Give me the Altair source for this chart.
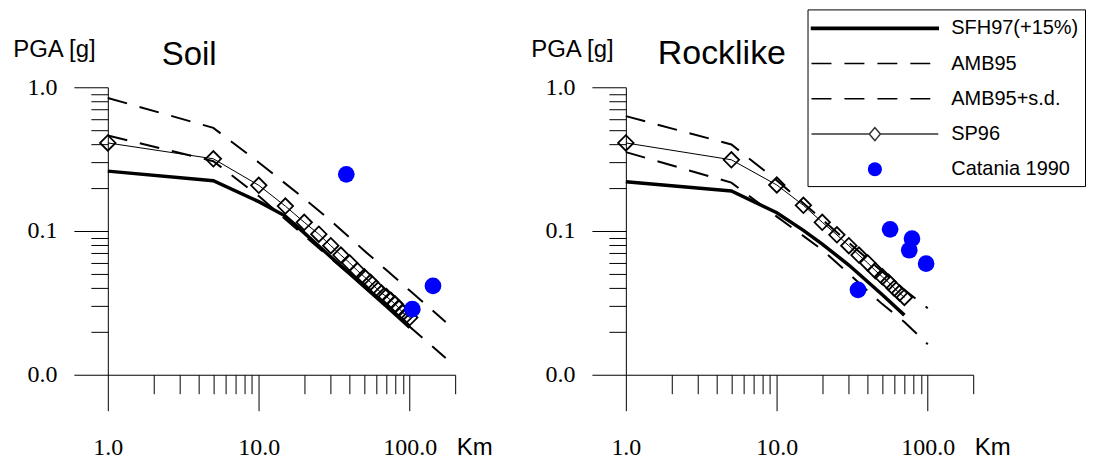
import altair as alt
import pandas as pd

# ---------------- data ----------------
# Soil panel
sp96_soil_x = [1, 5, 10, 15, 20, 25, 30, 35, 40, 45, 50, 55, 60, 65, 70, 75, 80, 85, 90, 95, 100]
sp96_soil_y = [0.41, 0.318, 0.208, 0.149, 0.115, 0.095, 0.079, 0.068, 0.060, 0.053, 0.048,
               0.044, 0.040, 0.037, 0.035, 0.033, 0.031, 0.029, 0.027, 0.026, 0.025]
sfh_soil_x = [1, 5, 10, 15, 20, 30, 50, 70, 100]
sfh_soil_y = [0.261, 0.224, 0.16, 0.127, 0.097, 0.066, 0.041, 0.030, 0.0213]
amb_soil_x = [1, 5, 10, 20, 30, 50, 70, 100, 173]
amb_soil_y = [0.462, 0.306, 0.175, 0.093, 0.0646, 0.0408, 0.030, 0.0216, 0.0131]
ambsd_soil_y = [0.843, 0.522, 0.30, 0.168, 0.118, 0.073, 0.0535, 0.0385, 0.0233]
cat_soil_x = [38, 104, 142.6]
cat_soil_y = [0.248, 0.0286, 0.0415]

# Rocklike panel
sp96_rock_x = [1, 5, 10, 15, 20, 25, 30, 35, 40, 45, 50, 55, 60, 65, 70]
sp96_rock_y = [0.41, 0.313, 0.209, 0.151, 0.115, 0.094, 0.079, 0.068, 0.060, 0.053, 0.048,
               0.044, 0.040, 0.037, 0.0345]
sfh_rock_x = [1, 5, 10, 15, 20, 30, 50, 70]
sfh_rock_y = [0.22, 0.19, 0.134, 0.101, 0.081, 0.058, 0.036, 0.026]
amb_rock_x = [1, 5, 10, 20, 30, 50, 70, 100]
amb_rock_y = [0.354, 0.217, 0.126, 0.074, 0.0505, 0.031, 0.0233, 0.0163]
ambsd_rock_y = [0.63, 0.40, 0.225, 0.12, 0.083, 0.052, 0.039, 0.029]
cat_rock_x = [34.5, 56.3, 75.4, 78.6, 97.5]
cat_rock_y = [0.039, 0.1028, 0.0735, 0.0885, 0.0593]

# axis ticks / labels
x_ticks = [1, 2, 3, 4, 5, 6, 7, 8, 9, 10, 20, 30, 40, 50, 60, 70, 80, 90, 100, 200]
y_ticks = [0.01, 0.02, 0.03, 0.04, 0.05, 0.06, 0.07, 0.08, 0.09,
           0.1, 0.2, 0.3, 0.4, 0.5, 0.6, 0.7, 0.8, 0.9, 1.0]

# legend (symbol paths in units of 12 px: symbolSize 576)
legend_labels = ["SFH97(+15%)", "AMB95", "AMB95+s.d.", "SP96", "Catania 1990"]
legend_paths = [
    "M-5.292,-0.0875H5.292V0.0875H-5.292Z",
    "M-5.292,0H5.292",
    "M-5.292,0H5.292",
    "M-5.292,0H-0.458M-0.458,0L0,-0.542L0.458,0L0,0.542ZM0.458,0H5.292",
    "M-0.583,0A0.583,0.583,0,1,1,0.583,0A0.583,0.583,0,1,1,-0.583,0Z",
]
legend_fill = ["black", "transparent", "transparent", "transparent", "blue"]
legend_stroke = ["black", "black", "black", "#333333", "transparent"]
legend_dash = [[1, 0], [20, 13], [20, 13], [1, 0], [1, 0]]

SANS = "Liberation Sans"
SERIF = "Liberation Serif, Times New Roman, serif"
DASH = [20, 13]


def df(xs, ys):
    return pd.DataFrame({"x": xs, "y": ys})


def panel(title, title_size, title_dx, title_off, sfh, amb, ambsd, sp, cat, with_legend=False):
    xs = alt.Scale(type="log", domain=[1, 200], nice=False)
    ys = alt.Scale(type="log", domain=[0.01, 1], nice=False)
    xaxis = alt.Axis(
        values=x_ticks, grid=False,
        tickSize={"condition": {"test": "datum.value == 1 || datum.value == 10 || datum.value == 100",
                                "value": 36}, "value": 19},
        labelExpr="datum.value == 1 ? '1.0' : datum.value == 10 ? '10.0' : datum.value == 100 ? '100.0' : ''",
        labelFont=SERIF, labelFontSize=24, labelPadding=25, labelOverlap=False, labelFlush=False,
        title="Km", titleFont=SANS, titleFontSize=24, titleFontWeight="normal",
        titleX=349, titleY=80, titleAlign="left", titleBaseline="alphabetic",
    )
    yaxis = alt.Axis(
        values=y_ticks, grid=False,
        tickSize={"condition": {"test": "datum.value == 1 || datum.value == 0.1 || datum.value == 0.01",
                                "value": 34}, "value": 17},
        labelExpr="datum.value == 1 ? '1.0' : datum.value == 0.1 ? '0.1' : datum.value == 0.01 ? '0.0' : ''",
        labelFont=SERIF, labelFontSize=24, labelPadding=17, labelOverlap=False, labelFlush=False,
        title="PGA [g]", titleFont=SANS, titleFontSize=24, titleFontWeight="normal", titleAngle=0,
        titleX=-54, titleY=-31, titleAlign="center", titleBaseline="alphabetic",
    )

    def enc(ch):
        return ch.encode(
            x=alt.X("x:Q", scale=xs, axis=xaxis),
            y=alt.Y("y:Q", scale=ys, axis=yaxis),
        )

    layers = [
        enc(alt.Chart(df(*ambsd)).mark_line(color="black", strokeWidth=2, strokeDash=DASH)),
        enc(alt.Chart(df(*amb)).mark_line(color="black", strokeWidth=2, strokeDash=DASH)),
        enc(alt.Chart(df(*sfh)).mark_line(color="black", strokeWidth=3.5)),
        enc(alt.Chart(df(*sp)).mark_line(color="black", strokeWidth=1)),
        enc(alt.Chart(df(*sp)).mark_point(shape="diamond", filled=False, color="black",
                                           size=240, strokeWidth=1.8, opacity=1)),
        enc(alt.Chart(df(*cat)).mark_circle(color="blue", size=280, opacity=1)),
    ]

    if with_legend:
        leg = alt.Legend(
            orient="none", legendX=701, legendY=-78, title=None, padding=6,
            strokeColor="black", fillColor="white",
            symbolSize=576, symbolStrokeWidth=1.5, symbolOffset=48.5, symbolOpacity=1,
            labelOffset=63.5, labelFont=SANS, labelFontSize=20, labelColor="black",
            labelLimit=0, rowPadding=12.3,
        )
        ldf = pd.DataFrame({"series": legend_labels, "x": [1000] * 5, "y": [0.5] * 5})
        carrier = alt.Chart(ldf).mark_point(opacity=0, clip=True, size=576, strokeWidth=1.5).encode(
            x=alt.X("x:Q", scale=xs, axis=xaxis),
            y=alt.Y("y:Q", scale=ys, axis=yaxis),
            shape=alt.Shape("series:N", scale=alt.Scale(domain=legend_labels, range=legend_paths), legend=leg),
            fill=alt.Fill("series:N", scale=alt.Scale(domain=legend_labels, range=legend_fill), legend=leg),
            stroke=alt.Stroke("series:N", scale=alt.Scale(domain=legend_labels, range=legend_stroke), legend=leg),
            strokeDash=alt.StrokeDash("series:N", scale=alt.Scale(domain=legend_labels, range=legend_dash), legend=leg),
        )
        layers.append(carrier)

    return alt.layer(*layers).properties(
        width=348, height=288,
        title=alt.Title(title, anchor="start", frame="group", dx=title_dx, offset=title_off,
                        font=SANS, fontSize=title_size, fontWeight="normal", color="black"),
    )


left = panel("Soil", 33, 54, -35,
             (sfh_soil_x, sfh_soil_y), (amb_soil_x, amb_soil_y), (amb_soil_x, ambsd_soil_y),
             (sp96_soil_x, sp96_soil_y), (cat_soil_x, cat_soil_y))
right = panel("Rocklike", 34, 32, -34,
              (sfh_rock_x, sfh_rock_y), (amb_rock_x, amb_rock_y), (amb_rock_x, ambsd_rock_y),
              (sp96_rock_x, sp96_rock_y), (cat_rock_x, cat_rock_y), with_legend=True)

chart = alt.hconcat(left, right, spacing=37).properties(
    padding={"left": 3, "top": 0, "right": 0, "bottom": 0}
).configure_view(stroke=None).configure_axis(
    domainColor="black", tickColor="black", labelColor="black", titleColor="black",
    domainWidth=1, tickWidth=1,
)

chart.save("out.html", embed_options={"renderer": "svg", "actions": False})
